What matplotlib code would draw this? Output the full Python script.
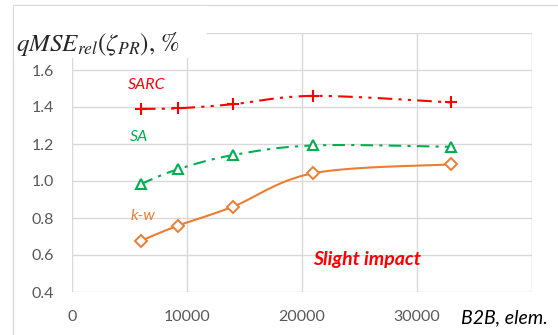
import matplotlib
matplotlib.use("Agg")
import matplotlib.pyplot as plt
import numpy as np
from matplotlib.patches import Rectangle

# mesh sizes (B2B elements) and relative qMSE for each turbulence model
elems = [6000, 9200, 14000, 21000, 33000]
sarc = [1.39, 1.393, 1.415, 1.46, 1.425]
sa = [0.984, 1.063, 1.14, 1.192, 1.185]
kw = [0.677, 0.758, 0.861, 1.042, 1.09]

x_ticks = [0, 10000, 20000, 30000, 40000]
x_labels = ['0', '10000', '20000', '30000', '']
y_ticks = [0.4, 0.6, 0.8, 1.0, 1.2, 1.4, 1.6, 1.8]
y_labels = ['0.4', '0.6', '0.8', '1.0', '1.2', '1.4', '1.6', '']

plt.rcParams['font.family'] = ['Lato', 'DejaVu Sans']
plt.rcParams['mathtext.fontset'] = 'stix'


def smooth(x, y, n=30):
    # excel-like smoothed line (catmull-rom through the points)
    x = np.asarray(x, float)
    y = np.asarray(y, float)
    px = np.concatenate([[x[0]], x, [x[-1]]])
    py = np.concatenate([[y[0]], y, [y[-1]]])
    xs, ys = [], []
    t = np.linspace(0, 1, n)
    for i in range(1, len(px) - 2):
        p0, p1, p2, p3 = px[i - 1], px[i], px[i + 1], px[i + 2]
        q0, q1, q2, q3 = py[i - 1], py[i], py[i + 1], py[i + 2]
        c1x, c1y = p1 + (p2 - p0) / 6, q1 + (q2 - q0) / 6
        c2x, c2y = p2 - (p3 - p1) / 6, q2 - (q3 - q1) / 6
        b0, b1, b2, b3 = (1 - t) ** 3, 3 * (1 - t) ** 2 * t, 3 * (1 - t) * t ** 2, t ** 3
        xs.append(b0 * p1 + b1 * c1x + b2 * c2x + b3 * p2)
        ys.append(b0 * q1 + b1 * c1y + b2 * c2y + b3 * q2)
    return np.concatenate(xs), np.concatenate(ys)


fig = plt.figure(figsize=(5.58, 3.35), dpi=100)
ax = fig.add_axes([72 / 558, 1 - 292 / 335, (531.5 - 72) / 558, (292 - 33) / 335])

red = '#FF0000'
green = '#00B050'
orange = '#ED7D31'

sx, sy = smooth(elems, sarc)
ax.plot(sx, sy, color=red, lw=1.5, dashes=(7, 3, 1.5, 3, 1.5, 3))
ax.plot(elems, sarc, ls='none', marker='+', ms=8, mew=1.5, color=red)

sx, sy = smooth(elems, sa)
ax.plot(sx, sy, color=green, lw=1.5, dashes=(6, 3, 1.5, 3))
ax.plot(elems, sa, ls='none', marker='^', ms=7, mew=1.5, mfc='white', color=green)

sx, sy = smooth(elems, kw)
ax.plot(sx, sy, color=orange, lw=1.5)
ax.plot(elems, kw, ls='none', marker='D', ms=6, mew=1.4, mfc='white', color=orange)

ax.set_xlim(0, 40000)
ax.set_ylim(0.4, 1.8)
ax.set_xticks(x_ticks)
ax.set_xticklabels(x_labels)
ax.set_yticks(y_ticks)
ax.set_yticklabels(y_labels)
ax.tick_params(length=0, labelsize=11.5, labelcolor='#595959')
ax.tick_params(axis='x', pad=13)
ax.tick_params(axis='y', pad=13)
ax.grid(True, color='#D9D9D9', lw=1)
for s in ax.spines.values():
    s.set_visible(False)
ax.set_axisbelow(True)

ax.text(6500, 1.52, 'SARC', color=red, style='italic', fontsize=11.5, ha='center', va='center')
ax.text(5800, 1.238, 'SA', color=green, style='italic', fontsize=11.5, ha='center', va='center')
ax.text(6200, 0.81, 'k-w', color=orange, style='italic', fontsize=11.5, ha='center', va='center')
ax.text(25650, 0.573, 'Slight impact', color=red, style='italic', weight='bold',
        fontsize=14, ha='center', va='center')

# outer chart border
fig.patches.append(Rectangle((13 / 558, -0.1), 1.2, 1 - 5 / 335 + 0.1, transform=fig.transFigure,
                             fill=False, ec='#D9D9D9', lw=1))
# title box hides the top-left grid
fig.patches.append(Rectangle((14 / 558, 1 - 58 / 335), (207 - 14) / 558, (58 - 6) / 335,
                             transform=fig.transFigure, fc='white', ec='none', zorder=5))
fig.text(16 / 558, 1 - 44 / 335, r'$qMSE_{rel}(\zeta_{PR}),\,\mathrm{\%}$', fontsize=18,
         color='#262626', ha='left', va='center', zorder=6)
fig.text(504 / 558, 1 - 318 / 335, 'B2B, elem.', fontsize=14, style='italic', color='black',
         ha='center', va='center')

fig.savefig('out.png', dpi=100)
